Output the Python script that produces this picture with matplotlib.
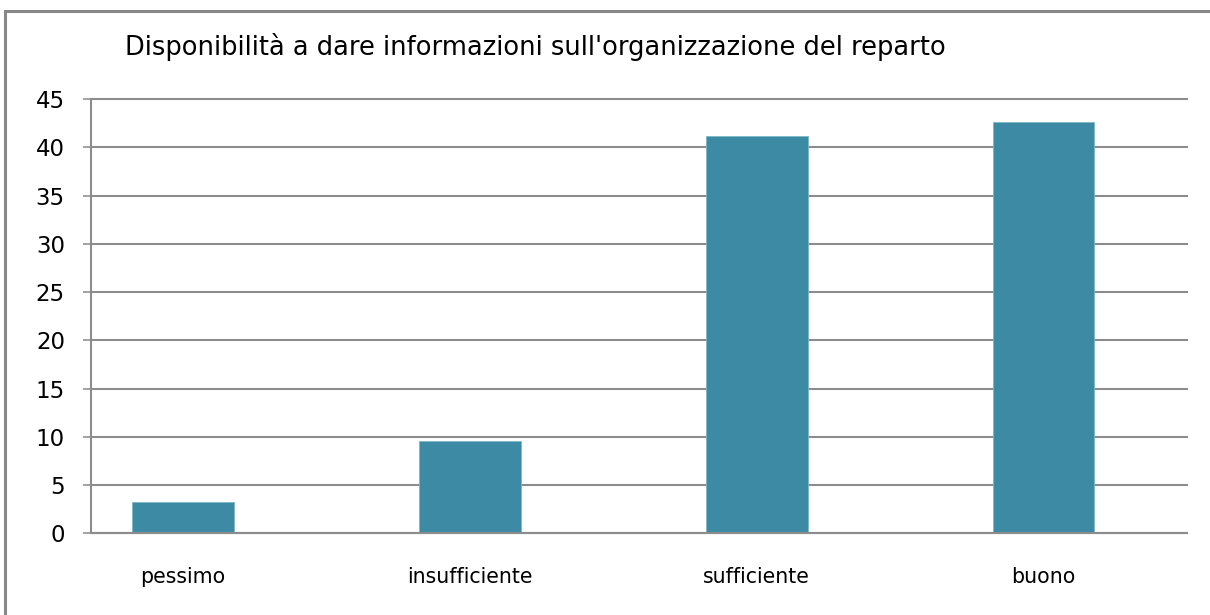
import matplotlib
matplotlib.use("Agg")
import matplotlib.pyplot as plt
from matplotlib.lines import Line2D

categories = ["pessimo", "insufficiente", "sufficiente", "buono"]
values = [3.2, 9.6, 41.2, 42.6]
yticks = [0, 5, 10, 15, 20, 25, 30, 35, 40, 45]
title = "Disponibilità a dare informazioni sull'organizzazione del reparto"

W, H = 1210, 615
fig = plt.figure(figsize=(W / 100, H / 100), dpi=100)
fig.patch.set_facecolor("white")

plt.rcParams['font.family'] = ['DejaVu Sans']

ax = fig.add_axes([91 / W, 1 - 533.3 / H, (1187 - 91) / W, (533.3 - 99) / H])
x = list(range(len(categories)))
ax.bar(x, values, width=0.355, color="#3C8AA3", edgecolor="#7fb6c7", linewidth=0.6, zorder=3)
ax.set_xlim(-0.32, 3.5)
ax.set_ylim(0, 45)
ax.set_yticks(yticks)
ax.set_xticks(x)
ax.set_xticklabels(categories)

grid_col = "#8c8c8c"
ax.yaxis.grid(True, color=grid_col, linewidth=1.5, zorder=0)
for gl in ax.get_ygridlines():
    gl.set_clip_on(False)
ax.set_axisbelow(True)
for s in ["top", "right"]:
    ax.spines[s].set_visible(False)
ax.spines["left"].set_color(grid_col)
ax.spines["left"].set_linewidth(1.5)
ax.spines["bottom"].set_color(grid_col)
ax.spines["bottom"].set_linewidth(1.5)
ax.spines["bottom"].set_zorder(4)

ax.tick_params(axis="y", length=5.8, width=1.1, color=grid_col, pad=13, labelsize=16.5, labelcolor="black")
ax.tick_params(axis="x", length=0, pad=24, labelsize=14.8, labelcolor="black")

fig.text(125 / W, 1 - 47 / H, title, fontsize=18.5, ha="left", va="center", color="black")

# outer border (top and left)
fig.add_artist(Line2D([5 / W, 1.0], [1 - 11 / H, 1 - 11 / H], color="#888888", linewidth=2.2, transform=fig.transFigure))
fig.add_artist(Line2D([5 / W, 5 / W], [1 - 11 / H, 0.0], color="#888888", linewidth=2.2, transform=fig.transFigure))

fig.savefig("out.png", dpi=100, facecolor="white")
